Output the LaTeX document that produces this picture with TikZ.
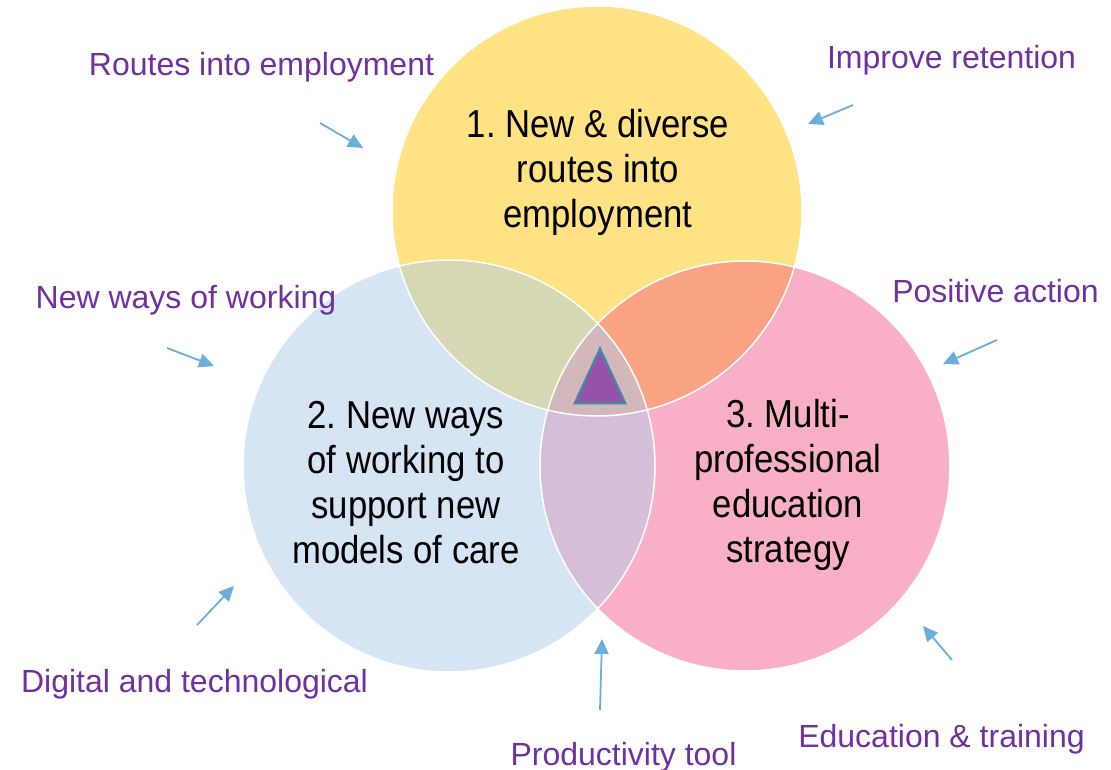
\documentclass[tikz,border=0pt]{standalone}
\usepackage{fontspec}
\setmainfont{Liberation Sans}
\newfontfamily\narrowfont[FakeStretch=0.89]{Liberation Sans}
\usetikzlibrary{arrows.meta}
\frenchspacing
\definecolor{ringyellow}{RGB}{255,226,131}
\definecolor{ringblue}{RGB}{213,229,243}
\definecolor{ringpink}{RGB}{249,175,197}
\definecolor{mixyb}{RGB}{213,216,179}
\definecolor{mixyp}{RGB}{249,163,130}
\definecolor{mixbp}{RGB}{213,190,215}
\definecolor{mixall}{RGB}{211,184,187}
\definecolor{arrowblue}{RGB}{107,174,220}
\definecolor{labelpurple}{RGB}{112,48,160}
\definecolor{corepurple}{RGB}{150,82,168}
\definecolor{coreedge}{RGB}{76,132,166}
\begin{document}
\begin{tikzpicture}[x=1pt, y=-1pt,
        aim/.style={draw=arrowblue, line width=1.8pt, -{Triangle[length=15pt,width=14pt]}},
        theme/.style={text=labelpurple, font=\fontsize{32}{38}\selectfont, anchor=base, inner sep=0pt},
        goal/.style={font=\narrowfont\fontsize{39}{45}\selectfont, align=center, anchor=base, inner sep=0pt}]
        \useasboundingbox (0,0) rectangle (1111,770);
        % the three circles
        \fill[ringyellow] (597,211) circle (205pt);
        \fill[ringblue] (449,466) circle (206pt);
        \fill[ringpink] (745,466) circle (205pt);
        \begin{scope}
            \clip (597,211) circle (205pt);
            \fill[mixyb] (449,466) circle (206pt);
            \fill[mixyp] (745,466) circle (205pt);
        \end{scope}
        \begin{scope}
            \clip (449,466) circle (206pt);
            \fill[mixbp] (745,466) circle (205pt);
            \clip (745,466) circle (205pt);
            \fill[mixall] (597,211) circle (205pt);
        \end{scope}
        \draw[white, line width=1.5pt] (597,211) circle (205pt) (449,466) circle (206pt) (745,466) circle (205pt);
        \filldraw[fill=corepurple, draw=coreedge, line width=2.5pt, line join=miter] (600,349) -- (625,403) -- (575,403) -- cycle;
        % circle texts (base = last line)
        \node[goal] (routes) at (598,228) {1. New \& diverse\\routes into\\employment};
        \node[goal] (ways) at (406,563) {2. New ways\\of working to\\support new\\models of care};
        \node[goal] (multi) at (788,562) {3. Multi-\\professional\\education\\strategy};
        % outer themes
        \node[theme] (tRoutes) at (261.5,76) {Routes into employment};
        \node[theme] (tRetain) at (951.5,69) {Improve retention};
        \node[theme] (tWays) at (186,308) {New ways of working};
        \node[theme] (tAction) at (995.5,302) {Positive action};
        \node[theme] (tDigital) at (194.5,692) {Digital and technological};
        \node[theme] (tTool) at (623.5,765) {Productivity tool};
        \node[theme] (tTrain) at (941.5,747) {Education \& training};
        \coordinate (aRoutes) at (320,123);  \coordinate (bRoutes) at (363,148);
        \coordinate (aRetain) at (853,105);  \coordinate (bRetain) at (808,124);
        \coordinate (aWays) at (167,348);    \coordinate (bWays) at (214,366);
        \coordinate (aAction) at (997,340);  \coordinate (bAction) at (943,364);
        \coordinate (aDigital) at (197,625); \coordinate (bDigital) at (234,586);
        \coordinate (aTool) at (600,710);    \coordinate (bTool) at (602,639);
        \coordinate (aTrain) at (952,660);   \coordinate (bTrain) at (923,626);
        \foreach \s in {Routes,Retain,Ways,Action,Digital,Tool,Train}
            \draw[aim] (a\s) -- (b\s);
\end{tikzpicture}
\end{document}
